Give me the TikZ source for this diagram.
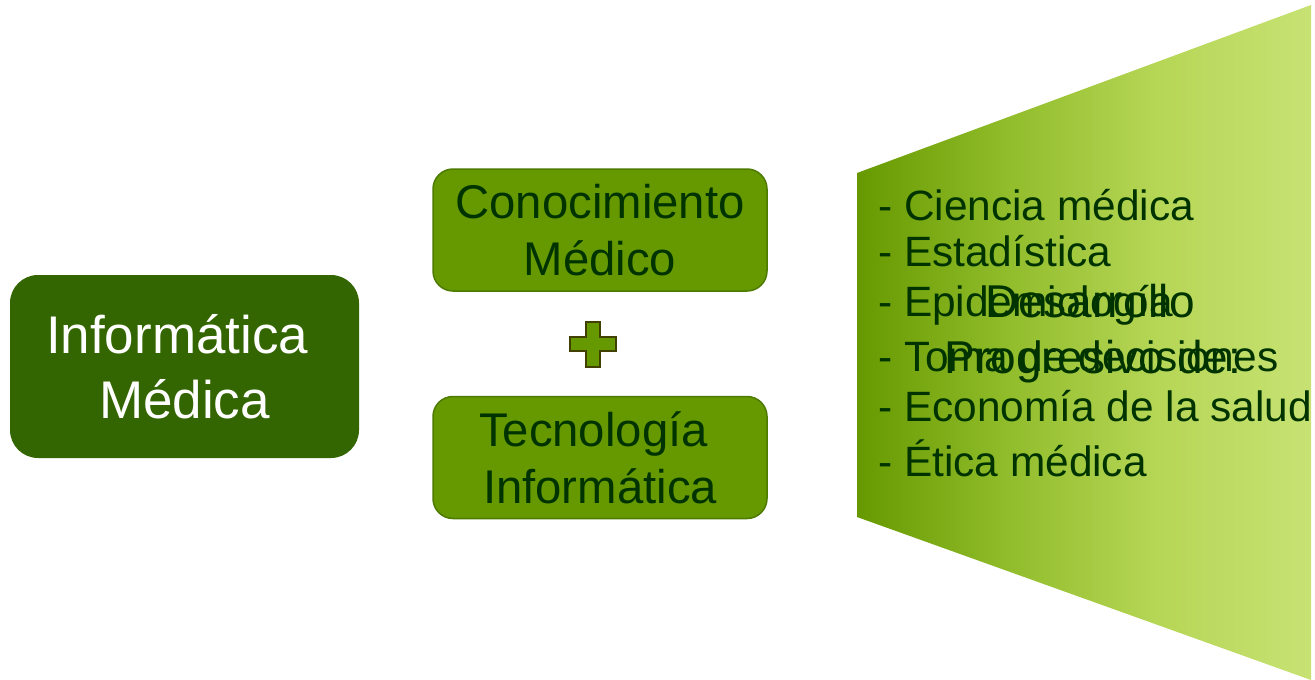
\documentclass[tikz,border=0pt]{standalone}
\usepackage{fontspec}
\setmainfont{Liberation Sans}
\definecolor{boxdark}{HTML}{336600}
\definecolor{boxmid}{HTML}{669900}
\definecolor{boxline}{HTML}{4D7A00}
\definecolor{plusline}{HTML}{404000}
\definecolor{txtdark}{HTML}{003300}
\definecolor{gA}{HTML}{669900}
\definecolor{gB}{HTML}{92BD2C}
\definecolor{gC}{HTML}{B6D656}
\definecolor{gD}{HTML}{C7E273}
\pgfdeclarehorizontalshading{gfade}{100bp}{color(0bp)=(gA); color(25bp)=(gA); color(42bp)=(gB); color(58bp)=(gC); color(75bp)=(gD); color(100bp)=(gD)}
\begin{document}
\begin{tikzpicture}[x=1pt,y=-1pt,
  bigbox/.style={fill=boxdark, rounded corners=28pt, minimum width=349pt, minimum height=183pt,
    text=white, align=center, inner sep=0pt, font=\fontsize{53}{65}\selectfont},
  midbox/.style={fill=boxmid, draw=boxline, line width=1.5pt, rounded corners=20pt,
    minimum width=334pt, minimum height=122pt, text=txtdark, align=center, inner sep=0pt,
    font=\fontsize{47.3}{57}\selectfont},
  listline/.style={anchor=base west, text=txtdark, inner sep=0pt, font=\fontsize{42.4}{50}\selectfont},
  overline/.style={anchor=base, text=txtdark, inner sep=0pt, font=\fontsize{46}{56}\selectfont}]
\useasboundingbox (0,0) rectangle (1315,680);
% gradient trapezoid
\shade[shading=gfade] (857,173) -- (1311,5) -- (1311,680) -- (857,517) -- cycle;
% left box
\node[bigbox] (im) at (184.5,366.5) {Informática\kern0.278em\\Médica};
% middle boxes
\node[midbox] (cm) at (600,230) {Conocimiento\\Médico};
\node[midbox] (ti) at (600,457.5) {Tecnología\kern0.278em\\Informática};
% plus sign
\draw[fill=boxmid, draw=plusline, line width=1.8pt]
  (586,322) -- (600,322) -- (600,337) -- (616,337) -- (616,351) -- (600,351) -- (600,367)
  -- (586,367) -- (586,351) -- (570,351) -- (570,337) -- (586,337) -- cycle;
% list
\node[listline] (l1) at (878,220.5) {- Ciencia médica};
\node[listline] (l2) at (878,266.5) {- Estadística};
\node[listline] (l3) at (878,316.5) {- Epidemiología};
\node[listline] (l4) at (878,371.5) {- Toma de decisiones};
\node[listline] (l5) at (878,421.5) {- Economía de la salud};
\node[listline] (l6) at (878,476.5) {- Ética médica};
% overlapping title
\node[overline] (d1) at (1090,317) {Desarrollo};
\node[overline] (d2) at (1093,373) {Progresivo de:};
\end{tikzpicture}
\end{document}
